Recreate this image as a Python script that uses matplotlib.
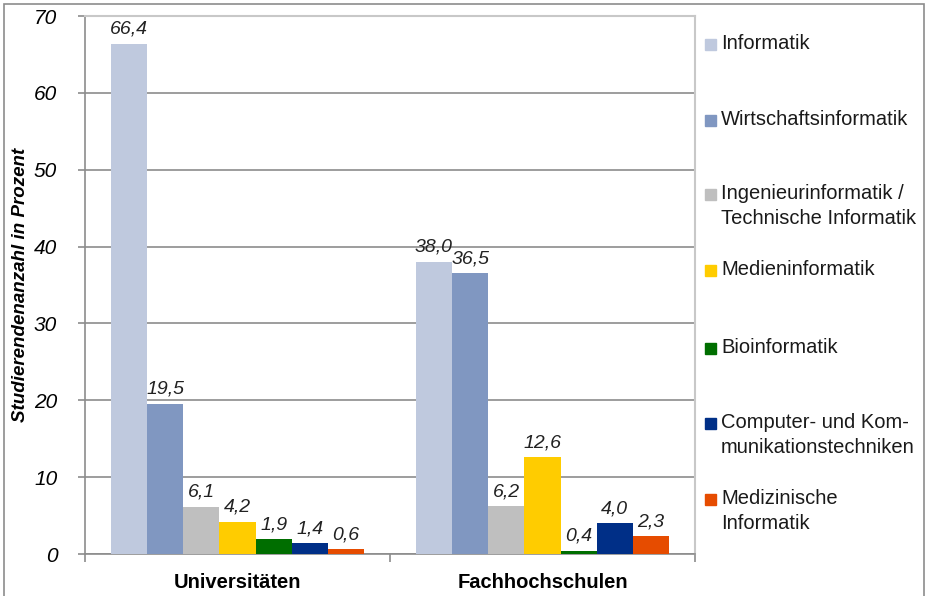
import numpy as np
import matplotlib
matplotlib.use("Agg")
import matplotlib.pyplot as plt
from matplotlib.patches import Rectangle

plt.rcParams['font.family'] = ['Liberation Sans', 'DejaVu Sans']

groups = ["Universitäten", "Fachhochschulen"]
series = ["Informatik", "Wirtschaftsinformatik",
          "Ingenieurinformatik /\nTechnische Informatik", "Medieninformatik",
          "Bioinformatik", "Computer- und Kom-\nmunikationstechniken",
          "Medizinische\nInformatik"]
uni = [66.4, 19.5, 6.1, 4.2, 1.9, 1.4, 0.6]
fh = [38.0, 36.5, 6.2, 12.6, 0.4, 4.0, 2.3]
colors = ["#BFC9DE", "#8097C1", "#BFBFBF", "#FFCC00",
          "#006E00", "#002F87", "#E64C00"]
y_ticks = [0, 10, 20, 30, 40, 50, 60, 70]

W, H = 927, 596
fig = plt.figure(figsize=(W / 100, H / 100), dpi=100)
ax = fig.add_axes([85 / W, 1 - 554 / H, 610 / W, 538 / H])

values = np.array([uni, fh])
n = len(series)
bw = 0.83 / n
x = np.arange(len(groups))
for i in range(n):
    pos = x - 0.83 / 2 + bw * (i + 0.5)
    bars = ax.bar(pos, values[:, i], width=bw, color=colors[i], zorder=3)
    for b, v in zip(bars, values[:, i]):
        ax.text(b.get_x() + b.get_width() / 2, v + 0.8, f"{v:.1f}".replace(".", ","),
                ha="center", va="bottom", fontsize=14, style="italic", color="#222222")

ax.set_xlim(-0.5, 1.5)
ax.set_ylim(0, 70)
ax.set_yticks(y_ticks)
ax.set_yticklabels([str(t) for t in y_ticks], fontsize=15, style="italic")
ax.yaxis.grid(True, color="#8C8C8C", linewidth=1.2, zorder=0)
ax.set_axisbelow(True)

ax.set_xticks(x)
ax.set_xticklabels(groups, fontsize=14.5, fontweight="bold")
ax.tick_params(axis="x", length=0, pad=14)
ax.set_xticks([-0.5, 0.5, 1.5], minor=True)
ax.tick_params(axis="x", which="minor", length=6, color="#8C8C8C", width=1.2)
ax.tick_params(axis="y", length=5, color="#8C8C8C", width=1.2, pad=15)

for s in ["left", "bottom"]:
    ax.spines[s].set_color("#8C8C8C")
    ax.spines[s].set_linewidth(1.2)
for s in ["top", "right"]:
    ax.spines[s].set_color("#C8C8C8")
    ax.spines[s].set_linewidth(1.5)

ax.set_ylabel("Studierendenanzahl in Prozent", fontsize=13.5, fontweight="bold",
              style="italic")
ax.yaxis.set_label_coords(-56 / 610, 0.5)

# legend
leg_y = [45, 121, 195, 271, 349, 424, 500]
for name, c, yy in zip(series, colors, leg_y):
    fig.patches.append(Rectangle((705 / W, 1 - (yy + 5) / H), 11 / W, 11 / H,
                                 transform=fig.transFigure, color=c))
    fig.text(721 / W, 1 - (yy - 11) / H, name, fontsize=14.5, va="top", ha="left",
             color="#1A1A1A", linespacing=1.4)

# outer border
fig.patches.append(Rectangle((4 / W, -0.05), 920 / W, 1.05 - 4 / H,
                             transform=fig.transFigure, fill=False,
                             edgecolor="#8C8C8C", linewidth=1.2))

fig.savefig("out.png", dpi=100)
